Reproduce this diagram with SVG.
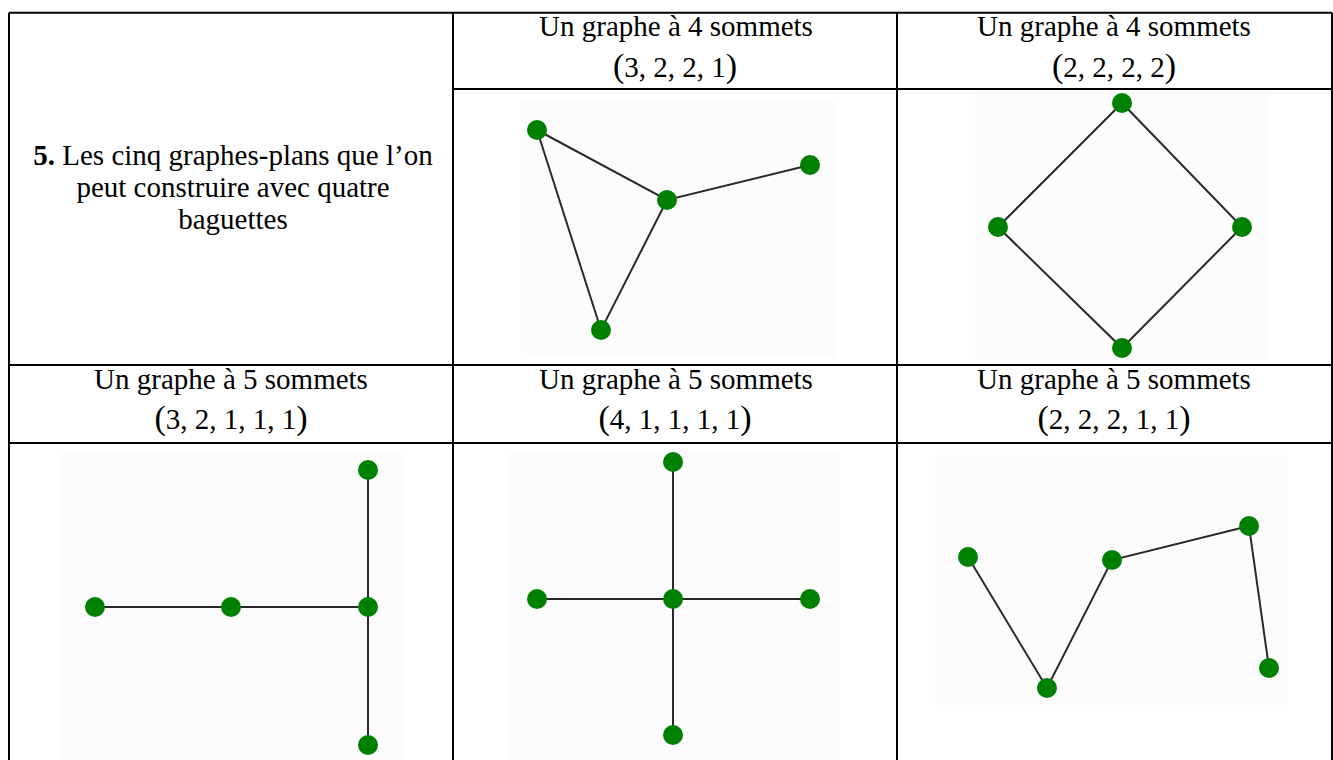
<svg xmlns="http://www.w3.org/2000/svg" width="1333" height="760" viewBox="0 0 1333 760">
<style>
.t{font-family:"Liberation Serif","Times New Roman",serif;font-size:29px;fill:#000;text-anchor:middle}
.p{font-size:34px}
.grid{stroke:#000;stroke-width:2;fill:none}
.img{fill:#fcfcfc}
.e{stroke:#2a2a2a;stroke-width:2;fill:none}
.n{fill:#008000}
</style>
<rect width="1333" height="760" fill="#fff"/>
<g id="images">
<rect class="img" x="521" y="100" width="315" height="258"/>
<rect class="img" x="975" y="92" width="292" height="268"/>
<rect class="img" x="60" y="452" width="345" height="308"/>
<rect class="img" x="510" y="450" width="330" height="310"/>
<rect class="img" x="935" y="455" width="353" height="250"/>
</g>
<g id="table">
<path class="grid" d="M9,12.7 H1332 M9,12.7 V760 M453,12.7 V760 M897,12.7 V760 M1332,12.7 V760 M453,89 H1332 M9,365 H1332 M9,443 H1332"/>
</g>
<g id="labels">
<g id="cell-title">
<text class="t" x="233" y="165"><tspan font-weight="bold">5.</tspan> Les cinq graphes-plans que l’on</text>
<text class="t" x="233" y="197">peut construire avec quatre</text>
<text class="t" x="233" y="229">baguettes</text>
</g>
<g id="head-1">
<text class="t" x="676" y="36">Un graphe à 4 sommets</text>
<text class="t" x="675" y="76.5"><tspan class="p">(</tspan>3, 2, 2, 1<tspan class="p">)</tspan></text>
</g>
<g id="head-2">
<text class="t" x="1114" y="36">Un graphe à 4 sommets</text>
<text class="t" x="1114" y="76.5"><tspan class="p">(</tspan>2, 2, 2, 2<tspan class="p">)</tspan></text>
</g>
<g id="head-3">
<text class="t" x="231" y="388.5">Un graphe à 5 sommets</text>
<text class="t" x="231" y="429"><tspan class="p">(</tspan>3, 2, 1, 1, 1<tspan class="p">)</tspan></text>
</g>
<g id="head-4">
<text class="t" x="676" y="388.5">Un graphe à 5 sommets</text>
<text class="t" x="675" y="429"><tspan class="p">(</tspan>4, 1, 1, 1, 1<tspan class="p">)</tspan></text>
</g>
<g id="head-5">
<text class="t" x="1114" y="388.5">Un graphe à 5 sommets</text>
<text class="t" x="1114" y="429"><tspan class="p">(</tspan>2, 2, 2, 1, 1<tspan class="p">)</tspan></text>
</g>
</g>
<g id="connectors">
<path class="e" d="M537,130 L667,200 L810,165 M537,130 L601,330 L667,200"/>
<path class="e" d="M1122,103 L998,227 L1122,348 L1242,227 Z"/>
<path class="e" d="M95,607 H368 M368,470 V745"/>
<path class="e" d="M673,462 V735 M537,599 H810"/>
<path class="e" d="M968,557 L1047,688 L1112,560 L1249,526 L1269,668"/>
</g>
<g id="graph1">
<circle id="g1a" class="n" cx="537" cy="130" r="10"/>
<circle id="g1b" class="n" cx="667" cy="200" r="10"/>
<circle id="g1c" class="n" cx="810" cy="165" r="10"/>
<circle id="g1d" class="n" cx="601" cy="330" r="10"/>
</g>
<g id="graph2">
<circle id="g2a" class="n" cx="1122" cy="103" r="10"/>
<circle id="g2b" class="n" cx="998" cy="227" r="10"/>
<circle id="g2c" class="n" cx="1242" cy="227" r="10"/>
<circle id="g2d" class="n" cx="1122" cy="348" r="10"/>
</g>
<g id="graph3">
<circle id="g3a" class="n" cx="95" cy="607" r="10"/>
<circle id="g3b" class="n" cx="231" cy="607" r="10"/>
<circle id="g3c" class="n" cx="368" cy="607" r="10"/>
<circle id="g3d" class="n" cx="368" cy="470" r="10"/>
<circle id="g3e" class="n" cx="368" cy="745" r="10"/>
</g>
<g id="graph4">
<circle id="g4a" class="n" cx="673" cy="599" r="10"/>
<circle id="g4b" class="n" cx="673" cy="462" r="10"/>
<circle id="g4c" class="n" cx="673" cy="735" r="10"/>
<circle id="g4d" class="n" cx="537" cy="599" r="10"/>
<circle id="g4e" class="n" cx="810" cy="599" r="10"/>
</g>
<g id="graph5">
<circle id="g5a" class="n" cx="968" cy="557" r="10"/>
<circle id="g5b" class="n" cx="1047" cy="688" r="10"/>
<circle id="g5c" class="n" cx="1112" cy="560" r="10"/>
<circle id="g5d" class="n" cx="1249" cy="526" r="10"/>
<circle id="g5e" class="n" cx="1269" cy="668" r="10"/>
</g>
</svg>
